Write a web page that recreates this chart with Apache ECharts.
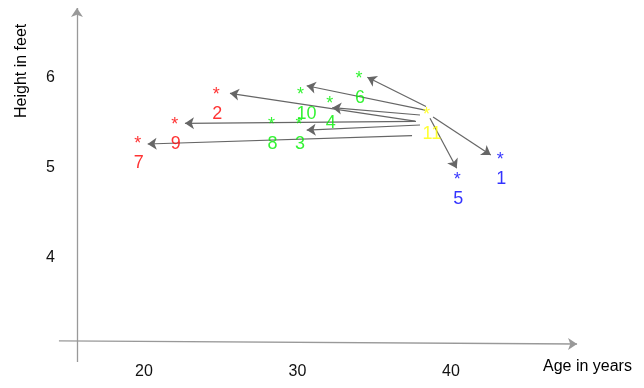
<!DOCTYPE html>
<html>
<head>
<meta charset="utf-8">
<script src="https://cdn.jsdelivr.net/npm/echarts@6/dist/echarts.min.js"></script>
<style>
html,body{margin:0;padding:0;background:#fff;}
#chart{width:644px;height:388px;}
</style>
</head>
<body>
<div id="chart"></div>
<script>
// ---- data ----
const pointIds = ['1','2','3','4','5','6','7','8','9','10','11'];
const ages     = [43.2, 24.7, 30.1, 32.1, 40.4, 34.0, 19.6, 28.3, 22.0, 30.2, 38.4];
const heights  = [5.13, 5.85, 5.52, 5.76, 4.91, 6.03, 5.31, 5.52, 5.52, 5.85, 5.63];
const groups   = ['C','A','B','B','C','B','A','B','A','B','D'];

const arrowTargets    = ['1','5','6','10','4','2','9','3','7'];
const arrowFromAge    = [38.83, 38.63, 38.37, 38.31, 37.98, 37.65, 37.72, 37.98, 37.46];
const arrowFromHeight = [5.567, 5.552, 5.683, 5.644, 5.589, 5.522, 5.519, 5.478, 5.359];
const arrowToAge      = [42.59, 40.37, 34.55, 30.60, 32.27, 25.60, 22.67, 30.60, 20.24];
const arrowToHeight   = [5.144, 4.997, 6.008, 5.914, 5.670, 5.830, 5.497, 5.422, 5.267];

const xTicks = [20, 30, 40];
const yTicks = [4, 5, 6];
const xTitle = 'Age in years';
const yTitle = 'Height in feet';

// ---- styles ----
const groupColors = {A:'#ff0000', B:'#00f000', C:'#0000ff', D:'#ffff00'};
const FONT = 'Liberation Sans, Arial, sans-serif';
const axisExtent = {x:[14.46, 48.21], xAt:[3.078, 3.044], y:[2.844, 6.778], yAt:15.635};

const chart = echarts.init(document.getElementById('chart'), null, {renderer:'canvas'});

const starData = pointIds.map((id, i) => ({
  name: id, value: [ages[i], heights[i]],
  label: {color: groupColors[groups[i]]}
}));

const arrowData = arrowTargets.map((t, i) => ({
  name: t,
  coords: [[arrowFromAge[i], arrowFromHeight[i]], [arrowToAge[i], arrowToHeight[i]]]
}));

const option = {
  animation: false,
  backgroundColor: '#fff',
  grid: {left: 60, right: 0, top: 0, bottom: 33},
  xAxis: {
    type: 'value', min: 14.53, max: 52.57,
    axisLine: {show: false}, axisTick: {show: false}, splitLine: {show: false},
    axisLabel: {customValues: xTicks, fontSize: 16, color: '#111', fontFamily: FONT, margin: 9}
  },
  yAxis: {
    type: 'value', min: 2.922, max: 6.867,
    axisLine: {show: false}, axisTick: {show: false}, splitLine: {show: false},
    axisLabel: {customValues: yTicks, fontSize: 16, color: '#111', fontFamily: FONT, margin: 5}
  },
  graphic: [
    {type: 'text', rotation: Math.PI/2, originX: 0, originY: 0,
     style: {text: yTitle, font: '16px ' + FONT, fill: '#000'}, x: 14, y: 118},
    {type: 'text', x: 543, y: 359,
     style: {text: xTitle, font: '16px ' + FONT, fill: '#000'}}
  ],
  series: [
    {
      type: 'lines', coordinateSystem: 'cartesian2d', clip: false, silent: true,
      lineStyle: {color: '#999', width: 1.3, opacity: 1, curveness: 0},
      symbol: ['none', 'arrow'], symbolSize: [7, 9],
      data: [
        {coords: [[axisExtent.x[0], axisExtent.xAt[0]], [axisExtent.x[1], axisExtent.xAt[1]]]},
        {coords: [[axisExtent.yAt, axisExtent.y[0]], [axisExtent.yAt, axisExtent.y[1]]]}
      ]
    },
    {
      type: 'lines', coordinateSystem: 'cartesian2d', clip: false, silent: true,
      lineStyle: {color: '#666', width: 1.2, opacity: 1, curveness: 0},
      symbol: ['none', 'arrow'], symbolSize: [6, 9],
      data: arrowData
    },
    {
      type: 'scatter', symbolSize: 1, itemStyle: {color: 'rgba(0,0,0,0)'}, silent: true,
      label: {show: true, formatter: '*', position: 'inside', offset: [0, 4],
              fontSize: 18, fontFamily: FONT},
      data: starData
    },
    {
      type: 'scatter', symbolSize: 1, itemStyle: {color: 'rgba(0,0,0,0)'}, silent: true,
      label: {show: true, formatter: p => p.name, position: 'inside', align: 'left',
              offset: [-4, 23], fontSize: 18, fontFamily: FONT},
      data: starData
    }
  ]
};
chart.setOption(option);
</script>
</body>
</html>
